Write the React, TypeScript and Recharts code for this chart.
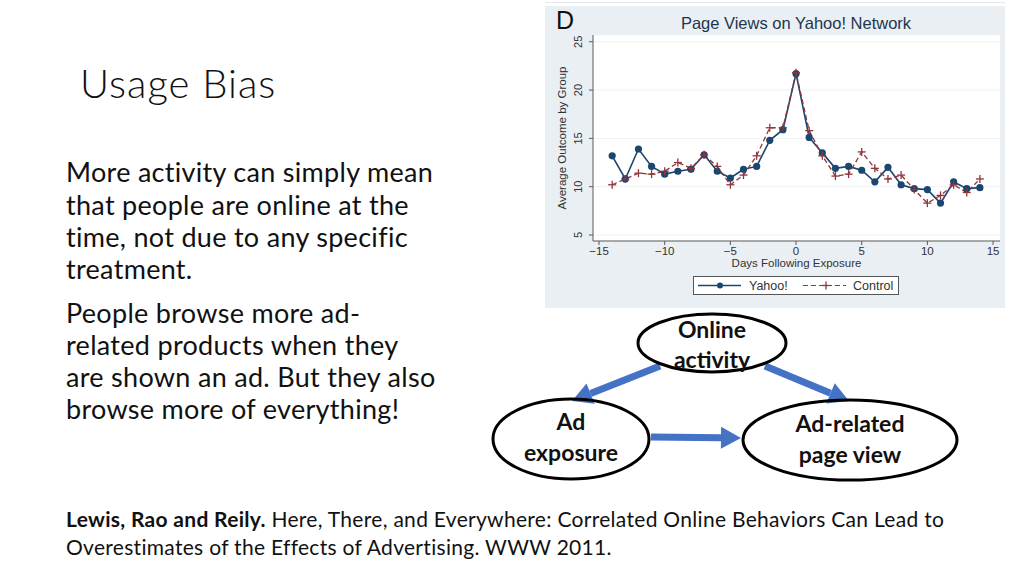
import { LineChart, Line, XAxis, YAxis, CartesianGrid, Legend, Label } from 'recharts';

const days = [-14, -13, -12, -11, -10, -9, -8, -7, -6, -5, -4, -3, -2, -1, 0, 1, 2, 3, 4, 5, 6, 7, 8, 9, 10, 11, 12, 13, 14];
const yahooValues = [13.2, 10.8, 13.9, 12.1, 11.3, 11.6, 11.8, 13.3, 11.6, 10.9, 11.8, 12.1, 14.8, 15.9, 21.7, 15.1, 13.5, 11.9, 12.1, 11.7, 10.5, 12.0, 10.2, 9.8, 9.7, 8.3, 10.5, 9.8, 9.9];
const controlValues = [10.2, 10.8, 11.4, 11.3, 11.6, 12.5, 11.9, 13.3, 12.1, 10.2, 11.2, 13.2, 16.1, 16.1, 21.8, 15.8, 13.2, 11.1, 11.3, 13.6, 11.9, 10.8, 11.2, 9.7, 8.3, 9.1, 10.2, 9.4, 10.8];
const xTicks = [-15, -10, -5, 0, 5, 10, 15];
const yTicks = [5, 10, 15, 20, 25];

const data = days.map((d, i) => ({ day: d, yahoo: yahooValues[i], control: controlValues[i] }));

const NAVY = '#1a476f';
const MAROON = '#90353b';
const AXIS = '#5a5a5a';
const CHART_FONT = '"Liberation Sans", Arial, sans-serif';
const SLIDE_FONT = 'Lato, "Open Sans", sans-serif';

const minus = (v: number) => String(v).replace('-', '\u2212');

function PlusDot(props: any) {
  const { cx, cy } = props;
  if (cx == null || cy == null) return null;
  return (
    <g stroke={MAROON} strokeWidth={1.3}>
      <line x1={cx - 4} y1={cy} x2={cx + 4} y2={cy} />
      <line x1={cx} y1={cy - 4} x2={cx} y2={cy + 4} />
    </g>
  );
}

function YTick(props: any) {
  const { x, y, payload } = props;
  return (
    <text x={x} y={y} transform={`rotate(-90 ${x} ${y})`} textAnchor="middle" fontSize={11} fill="#333" fontFamily={CHART_FONT}>
      {payload.value}
    </text>
  );
}

function LegendBox() {
  return (
    <div style={{ marginLeft: 148, width: 206, height: 19, boxSizing: 'border-box', border: '1px solid #555', background: '#fff', position: 'relative' }}>
      <svg width={206} height={19} style={{ position: 'absolute', left: -1, top: -1 }}>
        <line x1={5} y1={9.5} x2={48} y2={9.5} stroke={NAVY} strokeWidth={1.3} />
        <circle cx={27} cy={9.5} r={3} fill={NAVY} />
        <text x={56} y={14} fontSize={12.5} fill="#333" fontFamily={CHART_FONT}>Yahoo!</text>
        <line x1={110} y1={9.5} x2={153} y2={9.5} stroke={MAROON} strokeWidth={1.2} strokeDasharray="5 3" />
        <line x1={129} y1={9.5} x2={137} y2={9.5} stroke={MAROON} strokeWidth={1.3} />
        <line x1={133} y1={5.5} x2={133} y2={13.5} stroke={MAROON} strokeWidth={1.3} />
        <text x={160} y={14} fontSize={12.5} fill="#333" fontFamily={CHART_FONT}>Control</text>
      </svg>
    </div>
  );
}

function Arrow({ x1, y1, x2, y2 }: { x1: number; y1: number; x2: number; y2: number }) {
  const ang = Math.atan2(y2 - y1, x2 - x1);
  const head = 20;
  const half = 11;
  const bx = x2 - head * Math.cos(ang);
  const by = y2 - head * Math.sin(ang);
  const px = -Math.sin(ang) * half;
  const py = Math.cos(ang) * half;
  return (
    <g fill="#4472c4" stroke="none">
      <line x1={x1} y1={y1} x2={bx} y2={by} stroke="#4472c4" strokeWidth={7} />
      <polygon points={`${x2},${y2} ${bx + px},${by + py} ${bx - px},${by - py}`} />
    </g>
  );
}

export default function App() {
  return (
    <div style={{ position: 'fixed', left: 0, top: 0, width: 1024, height: 576, background: '#fff', overflow: 'hidden' }}>
      <div style={{ position: 'absolute', left: 545, top: 2, width: 460, height: 1, background: '#e4eaee' }} />
      <div style={{ position: 'absolute', left: 545, top: 6, width: 460, height: 302, background: '#e9eff3' }} />

      <svg width={1024} height={576} style={{ position: 'absolute', left: 0, top: 0 }}>
        <text x={80} y={98} fontSize={40} fontWeight={300} letterSpacing={1} fill="#111" fontFamily={SLIDE_FONT}>Usage Bias</text>
        <g fontSize={27} letterSpacing={0.3} fill="#111" fontFamily={SLIDE_FONT}>
          <text x={66} y={182}>More activity can simply mean</text>
          <text x={66} y={215}>that people are online at the</text>
          <text x={66} y={247}>time, not due to any specific</text>
          <text x={66} y={279}>treatment.</text>
          <text x={66} y={323}>People browse more ad-</text>
          <text x={66} y={355}>related products when they</text>
          <text x={66} y={387}>are shown an ad. But they also</text>
          <text x={66} y={419}>browse more of everything!</text>
        </g>
        <g fontSize={21} letterSpacing={0.3} fill="#111" fontFamily={SLIDE_FONT}>
          <text x={66} y={527}>
            <tspan fontWeight={700}>Lewis, Rao and Reily.</tspan>
            <tspan> Here, There, and Everywhere: Correlated Online Behaviors Can Lead to</tspan>
          </text>
          <text x={66} y={555}>Overestimates of the Effects of Advertising. WWW 2011.</text>
        </g>

        <text x={556} y={29} fontSize={25} fill="#111" fontFamily={CHART_FONT}>D</text>
        <text x={796} y={29} fontSize={16.5} fill="#1e3550" textAnchor="middle" fontFamily={CHART_FONT}>Page Views on Yahoo! Network</text>

        <Arrow x1={660} y1={366} x2={572} y2={401} />
        <Arrow x1={765} y1={366} x2={849} y2={401} />
        <Arrow x1={651} y1={437} x2={741} y2={438} />
        <g fill="none" stroke="#000" strokeWidth={3}>
          <ellipse cx={712} cy={343} rx={74} ry={29} />
          <ellipse cx={571} cy={439} rx={78} ry={40} />
          <ellipse cx={850} cy={440} rx={107} ry={40} />
        </g>
        <g fontSize={23} fontWeight={700} fill="#111" fontFamily={SLIDE_FONT} textAnchor="middle">
          <text x={712} y={338}>Online</text>
          <text x={712} y={368}>activity</text>
          <text x={571} y={430}>Ad</text>
          <text x={571} y={461}>exposure</text>
          <text x={850} y={432}>Ad-related</text>
          <text x={850} y={463}>page view</text>
        </g>
      </svg>

      <div style={{ position: 'absolute', left: 545, top: 0 }}>
        <LineChart width={460} height={308} data={data} margin={{ top: 35, right: 5, left: 0, bottom: 13 }}>
          <CartesianGrid vertical={false} stroke="#eef2f4" fill="#ffffff" />
          <XAxis
            type="number"
            dataKey="day"
            domain={[-15.46, 15.53]}
            ticks={xTicks}
            tickFormatter={minus}
            height={35}
            stroke={AXIS}
            tickSize={4}
            tickMargin={2}
            tick={{ fontSize: 11.5, fill: '#333', fontFamily: CHART_FONT }}
          >
            <Label
              content={(p: any) => (
                <text x={p.viewBox.x + p.viewBox.width / 2} y={p.viewBox.y + 26} textAnchor="middle" fontSize={11.5} fill="#333" fontFamily={CHART_FONT}>
                  Days Following Exposure
                </text>
              )}
            />
          </XAxis>
          <YAxis
            type="number"
            domain={[4.38, 25.7]}
            ticks={yTicks}
            width={48}
            stroke={AXIS}
            tickSize={4}
            tickMargin={7}
            tick={<YTick />}
          >
            <Label
              content={(p: any) => {
                const cx = p.viewBox.x + 21;
                const cy = p.viewBox.y + p.viewBox.height / 2;
                return (
                  <text x={cx} y={cy} transform={`rotate(-90 ${cx} ${cy})`} textAnchor="middle" fontSize={11.5} fill="#333" fontFamily={CHART_FONT}>
                    Average Outcome by Group
                  </text>
                );
              }}
            />
          </YAxis>
          <Legend verticalAlign="bottom" content={<LegendBox />} />
          <Line
            dataKey="yahoo"
            name="Yahoo!"
            stroke={NAVY}
            strokeWidth={1.6}
            dot={{ r: 3.6, fill: NAVY, stroke: NAVY, strokeWidth: 0 }}
            isAnimationActive={false}
          />
          <Line
            dataKey="control"
            name="Control"
            stroke={MAROON}
            strokeWidth={1.3}
            strokeDasharray="5 3"
            dot={<PlusDot />}
            isAnimationActive={false}
          />
        </LineChart>
      </div>
    </div>
  );
}
